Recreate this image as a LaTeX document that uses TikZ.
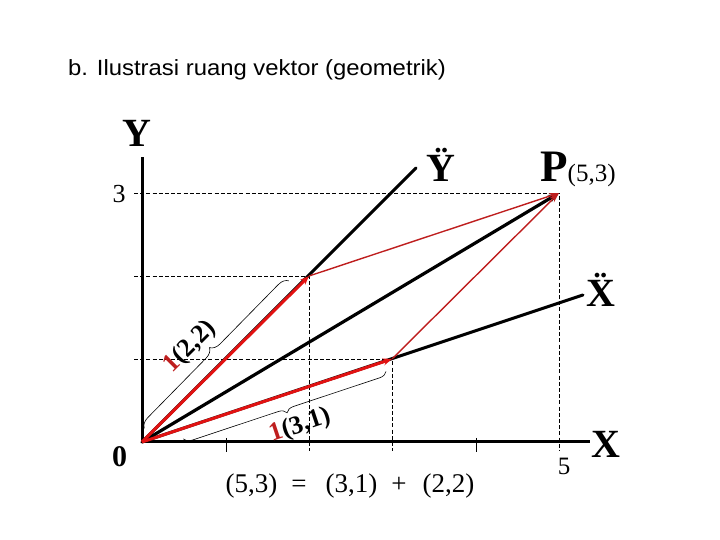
\documentclass[tikz,border=0pt]{standalone}
\usepackage{fontspec}
\setmainfont{Liberation Serif}
\newfontfamily\titlefont{Liberation Sans}
\usetikzlibrary{arrows.meta,decorations.pathreplacing}
\definecolor{redA}{RGB}{226,18,18}
\definecolor{redB}{RGB}{190,30,30}
\begin{document}
\begin{tikzpicture}[x=1pt,y=1pt,
  big/.style={inner sep=0pt, anchor=base, font=\fontsize{40}{40}\selectfont\bfseries},
  num/.style={inner sep=0pt, anchor=base, font=\fontsize{26}{26}\selectfont},
  dsh/.style={line width=0.8pt, dash pattern=on 4pt off 2.2pt},
  axis/.style={line width=3pt},
  tick/.style={line width=0.8pt},
  blk/.style={line width=3pt, line cap=round},
  redthick/.style={line width=3pt, color=redA, -{Stealth[length=9pt,width=7pt]}},
  redthin/.style={line width=1.4pt, color=redB, -{Stealth[length=10pt,width=6pt]}},
  brc/.style={line width=0.6pt, decorate, decoration={brace, amplitude=#1}},
  vlab/.style={inner sep=0pt, font=\fontsize{26}{26}\selectfont\bfseries}]
\useasboundingbox (0,0) rectangle (720,540);
% points
\coordinate (O) at (142,98);
\coordinate (A) at (309,264);
\coordinate (B) at (392,181);
\coordinate (P) at (559,347);
\coordinate (Ytop) at (142,383);
\coordinate (Xend) at (590,98);
\coordinate (Ydd) at (416,372);
\coordinate (Xdd) at (583,245);
% dashed helpers
\coordinate (y3l) at (134,347);
\coordinate (y2l) at (134,264);
\coordinate (y1l) at (134,181);
\coordinate (x2b) at (309,89);
\coordinate (x3b) at (392,89);
\coordinate (x5b) at (559,89);
\coordinate (x1t) at (226,102);
\coordinate (x1b) at (226,88);
\coordinate (x4t) at (476,102);
\coordinate (x4b) at (476,88);
% title
\node[inner sep=0pt, anchor=base west, font=\titlefont\fontsize{22}{22}\selectfont] (title) at (68,464) {\scalebox{1.085}[1]{b. Ilustrasi ruang vektor (geometrik)}};
% dashed grid
\draw[dsh] (y3l) -- (P) -- (x5b);
\draw[dsh] (y2l) -- (A) -- (x2b);
\draw[dsh] (y1l) -- (B) -- (x3b);
\draw[tick] (x1t) -- (x1b);
\draw[tick] (x4t) -- (x4b);
% axes
\draw[axis] (O) -- (Ytop);
\draw[axis] (O) -- (Xend);
% black lines
\draw[blk] (O) -- (Ydd);
\draw[blk] (O) -- (Xdd);
\draw[line width=3.2pt, -{Stealth[length=11pt,width=8pt]}] (O) -- (P);
% red lines
\draw[redthin] (A) -- (P);
\draw[redthin] (B) -- (P);
\draw[redthick] (O) -- (A);
\draw[redthick] (O) -- (B);
% braces
\coordinate (b1s) at (144.3,111.7);
\coordinate (b1e) at (288.9,259.1);
\draw[brc=10pt] (b1s) -- (b1e);
\coordinate (b2s) at (386,168.5);
\coordinate (b2e) at (183.2,101.1);
\draw[brc=8pt] (b2s) -- (b2e);
% vector labels
\node[vlab, rotate=45] (l22) at (190,193) {\textcolor{redB}{1}(2,2)};
\node[vlab, rotate=18.4] (l31) at (300,114) {\textcolor{redB}{1}(3,1)};
% axis labels
\node[big] (Ylab) at (137,393) {Y};
\node[big] (Yddlab) at (441,358) {\"Y};
\node[big, anchor=base west] (Plab) at (540,358) {\fontsize{45}{45}\selectfont P\fontsize{25}{25}\mdseries(5,3)};
\node[big] (Xddlab) at (601,233) {\"X};
\node[big] (Xlab) at (606,82) {X};
\node[big, font=\fontsize{30}{30}\selectfont\bfseries] (zero) at (119.5,73) {0};
\node[num] (three) at (119,337) {3};
\node[num, font=\fontsize{25}{25}\selectfont] (five) at (564,65) {5};
\node[num, font=\fontsize{27}{27}\selectfont] (eq) at (350,47) {(5,3)\hspace{14pt}=\hspace{19pt}(3,1)\hspace{14pt}+\hspace{16pt}(2,2)};
\end{tikzpicture}
\end{document}
